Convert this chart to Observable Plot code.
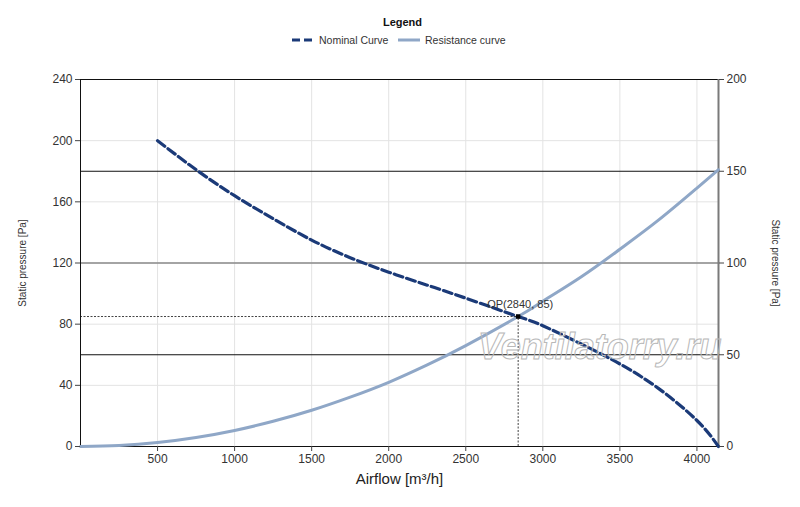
<!DOCTYPE html>
<html>
<head>
<meta charset="utf-8">
<script src="https://cdn.jsdelivr.net/npm/d3@7"></script>
<script src="https://cdn.jsdelivr.net/npm/@observablehq/plot@0.6"></script>
<style>
  body { margin: 0; background: #fff; font-family: "Liberation Sans", Arial, sans-serif; }
  #wrap { position: relative; width: 800px; height: 507px; }
  #legend { position: relative; height: 55px; width: 800px; }
  #legend .title { position: absolute; left: 0; width: 805px; text-align: center; top: 16px; font-size: 11px; font-weight: bold; color: #111; }
  #legend .item { position: absolute; top: 34px; font-size: 10.5px; color: #333; display: flex; align-items: center; }
  #legend svg { margin-right: 4px; }
  #wm { position: absolute; left: 478px; top: 326px; font: italic bold 36px "Liberation Sans", Arial, sans-serif; color: transparent; -webkit-text-stroke: 1px #b8b8b8; pointer-events: none; white-space: nowrap; }
</style>
</head>
<body>
<div id="wrap">
  <div id="legend">
    <div class="title">Legend</div>
    <div class="item" style="left:291px"><svg width="24" height="6"><line x1="1" y1="3" x2="23" y2="3" stroke="#1b3a78" stroke-width="3" stroke-dasharray="8,4"/></svg>Nominal Curve</div>
    <div class="item" style="left:397px"><svg width="24" height="6"><line x1="1" y1="3" x2="23" y2="3" stroke="#8fa7c7" stroke-width="3"/></svg>Resistance curve</div>
  </div>
  <div id="chart"></div>
  <div id="wm">Ventilatorry.ru</div>
</div>
<script>
// Nominal curve (airflow m³/h, static pressure Pa)
const nominalFlow = [500, 750, 1000, 1250, 1500, 1750, 2000, 2250, 2500, 2840, 3000, 3250, 3500, 3750, 4000, 4140];
const nominalPressure = [200, 181, 164, 149, 135, 123.5, 114, 105.5, 97, 85, 79, 67, 54, 38, 17, 0];
// Resistance curve
const resistFlow = [0, 250, 500, 750, 1000, 1250, 1500, 1750, 2000, 2250, 2500, 2840, 3000, 3250, 3500, 3750, 4000, 4140];
const resistPressure = [0, 0.7, 2.6, 5.9, 10.5, 16.5, 23.7, 32.3, 42, 53.4, 66, 85, 95, 111, 129, 148, 169, 181];
// Operating point
const opFlow = 2840;
const opPressure = 85;
// Axes
const xTicks = [500, 1000, 1500, 2000, 2500, 3000, 3500, 4000];
const leftTicks = [0, 40, 80, 120, 160, 200, 240];
const rightTicks = [0, 50, 100, 150, 200];
const leftMax = 240, rightMax = 200, xMax = 4140;

const nominal = nominalFlow.map((f, i) => ({flow: f, p: nominalPressure[i]}));
const resist = resistFlow.map((f, i) => ({flow: f, p: resistPressure[i]}));
const rightPos = rightTicks.map(t => t * leftMax / rightMax);
const rightLines = rightPos.filter(v => v > 0 && v < leftMax);

const font = "Liberation Sans, Arial, sans-serif";

const chart = Plot.plot({
  width: 800,
  height: 452,
  marginLeft: 80,
  marginRight: 82,
  marginTop: 24,
  marginBottom: 61,
  style: {fontFamily: font, fontSize: "12px", color: "#333", background: "#fff"},
  x: {domain: [0, xMax]},
  y: {domain: [0, leftMax]},
  marks: [
    Plot.gridX(xTicks, {stroke: "#e3e3e3", strokeOpacity: 1}),
    Plot.gridY(leftTicks, {stroke: "#e3e3e3", strokeOpacity: 1}),
    Plot.ruleY(rightLines, {stroke: d => d === 120 ? "#8a8a8a" : "#111", strokeWidth: d => d === 120 ? 1.5 : 1}),
    Plot.ruleY([leftMax], {stroke: "#111"}),
    Plot.ruleX([xMax], {stroke: "#7a7a7a", strokeWidth: 2}),
    Plot.ruleX([0], {stroke: "#111"}),
    Plot.ruleY([0], {stroke: "#111"}),
    Plot.line(resist, {x: "flow", y: "p", stroke: "#8fa7c7", strokeWidth: 3, curve: "natural"}),
    Plot.line(nominal, {x: "flow", y: "p", stroke: "#1b3a78", strokeWidth: 3.2, strokeDasharray: "9,4", curve: "natural"}),
    Plot.ruleY([opPressure], {x1: 0, x2: opFlow, stroke: "#111", strokeWidth: 0.8, strokeDasharray: "2,1.5"}),
    Plot.ruleX([opFlow], {y1: 0, y2: opPressure, stroke: "#111", strokeWidth: 0.8, strokeDasharray: "2,1.5"}),
    Plot.dot([[opFlow, opPressure]], {x: d => d[0], y: d => d[1], symbol: "square", r: 2.5, fill: "#000", stroke: "none"}),
    Plot.text([[opFlow, opPressure]], {x: d => d[0], y: d => d[1], text: d => `OP(${d[0]}, ${d[1]})`, dx: -31, dy: -12, textAnchor: "start", fontSize: 11, fill: "#333"}),
    Plot.axisX(xTicks, {tickSize: 5, tickPadding: 3, stroke: "#444", fontSize: 12, label: null, fill: "#333", tickFormat: d => String(d)}),
    Plot.axisY(leftTicks, {anchor: "left", tickSize: 5, tickPadding: 3, fontSize: 12, label: null, fill: "#333", stroke: "#444", tickFormat: d => String(d)}),
    Plot.axisY(rightPos, {anchor: "right", tickSize: 5, tickPadding: 3, fontSize: 12, label: null, fill: "#333", stroke: "#444", tickFormat: d => String(Math.round(d * rightMax / leftMax))}),
    Plot.text(["Static pressure [Pa]"], {frameAnchor: "left", dx: -58, rotate: -90, textAnchor: "middle", fontSize: 10, fill: "#333"}),
    Plot.text(["Static pressure [Pa]"], {frameAnchor: "right", dx: 57, rotate: 90, textAnchor: "middle", fontSize: 10, fill: "#333"}),
    Plot.text(["Airflow [m³/h]"], {frameAnchor: "bottom", dy: 37, fontSize: 15, fill: "#222"})
  ]
});
document.getElementById("chart").appendChild(chart);
</script>
</body>
</html>
